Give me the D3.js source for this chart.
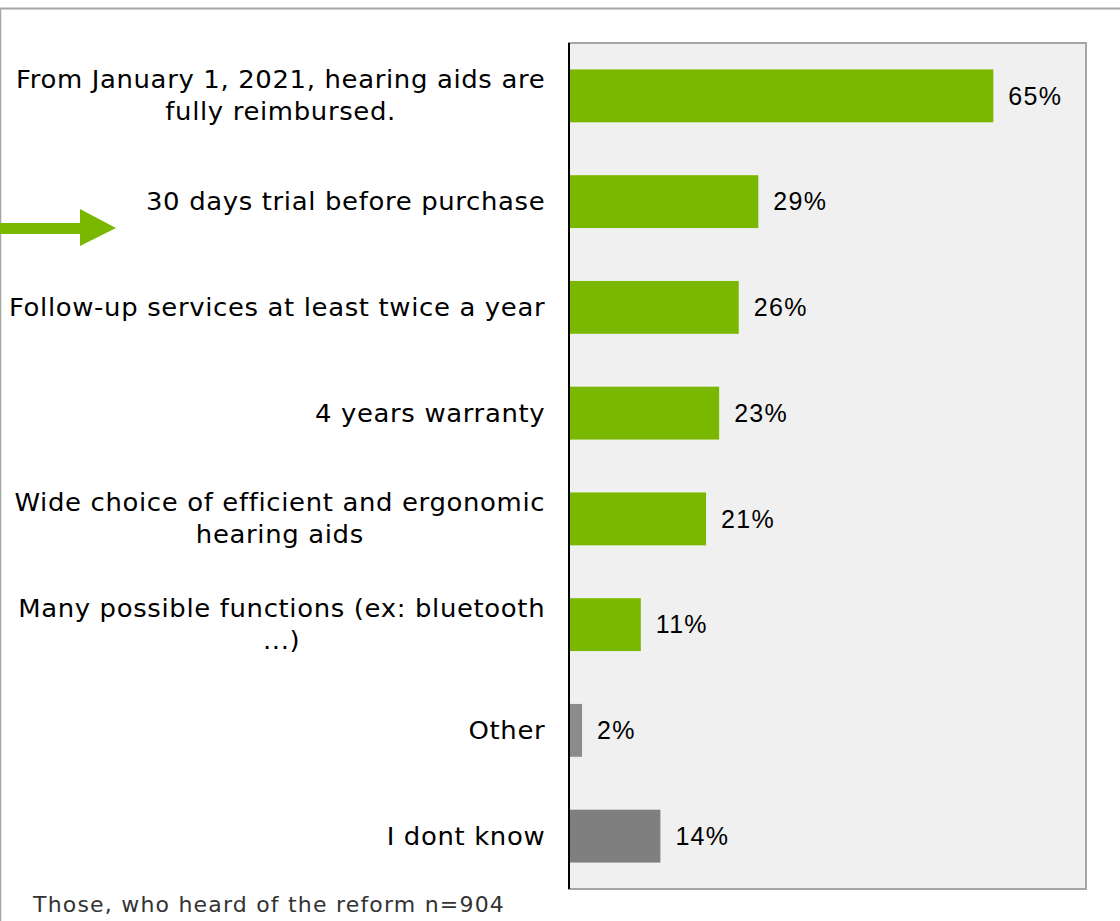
<!DOCTYPE html>
<html>
<head>
<meta charset="utf-8">
<script src="https://cdn.jsdelivr.net/npm/d3@7"></script>
<style>
  body { margin: 0; background: #fff; }
  svg { display: block; }
</style>
</head>
<body>
<script>
  var categories = [
    ["From January 1, 2021, hearing aids are", "fully reimbursed."],
    ["30 days trial before purchase"],
    ["Follow-up services at least twice a year"],
    ["4 years warranty"],
    ["Wide choice of efficient and ergonomic", "hearing aids"],
    ["Many possible functions (ex: bluetooth", "...)"],
    ["Other"],
    ["I dont know"]
  ];
  var values = [65, 29, 26, 23, 21, 11, 2, 14];
  var barColors = ["#7ab800", "#7ab800", "#7ab800", "#7ab800", "#7ab800", "#7ab800", "#8c8c8c", "#7f7f7f"];
  var footnote = "Those, who heard of the reform n=904";

  var settings = { width: 1120, height: 921, left: 569, right: 1086, top: 43, bottom: 889, labelRight: 545, stretch: 1.08 };

  var svg = d3.select("body").append("svg")
      .attr("width", settings.width)
      .attr("height", settings.height);

  // outer frame (only top and left visible)
  svg.append("line").attr("x1", 0).attr("x2", settings.width).attr("y1", 8.5).attr("y2", 8.5)
      .style("stroke", "#a6a6a6").style("stroke-width", 2);
  svg.append("line").attr("x1", 0.5).attr("x2", 0.5).attr("y1", 8).attr("y2", settings.height)
      .style("stroke", "#a6a6a6").style("stroke-width", 1.5);

  var x = d3.scaleLinear().domain([0, 79.2]).range([settings.left, settings.right]);
  var y = d3.scaleBand().domain(d3.range(values.length))
      .range([settings.top, settings.bottom]).paddingInner(0.5).paddingOuter(0.25);

  // plot background
  svg.append("rect")
      .attr("x", settings.left).attr("y", settings.top)
      .attr("width", settings.right - settings.left).attr("height", settings.bottom - settings.top)
      .style("fill", "#f0f0f0").style("stroke", "#a6a6a6").style("stroke-width", 2);

  svg.selectAll("rect.bar").data(values).enter()
    .append("rect").attr("class", "bar")
      .attr("x", x(0))
      .attr("y", function(d, i) { return y(i); })
      .attr("width", function(d) { return x(d) - x(0); })
      .attr("height", y.bandwidth())
      .style("fill", function(d, i) { return barColors[i]; });

  // axis line
  svg.append("line").attr("x1", settings.left).attr("x2", settings.left)
      .attr("y1", settings.top).attr("y2", settings.bottom)
      .style("stroke", "#000").style("stroke-width", 2);

  svg.selectAll("text.val").data(values).enter()
    .append("text").attr("class", "val")
      .attr("x", function(d) { return x(d) + 15; })
      .attr("y", function(d, i) { return y(i) + y.bandwidth() / 2; })
      .attr("dy", "0.35em")
      .style("font-family", "'Liberation Sans', Arial, sans-serif")
      .style("font-size", "25px")
      .style("letter-spacing", "1.3px")
      .style("fill", "#000")
      .text(function(d) { return d + "%"; });

  // category labels: lines centred on each other, block right-aligned,
  // stretched a bit to get closer to the wide Verdana look
  var labels = svg.selectAll("text.cat").data(categories).enter()
    .append("text").attr("class", "cat")
      .attr("text-anchor", "middle")
      .style("font-family", "'DejaVu Sans', Verdana, sans-serif")
      .style("font-size", "24px")
      .style("letter-spacing", "0.6px")
      .style("fill", "#000");
  labels.selectAll("tspan").data(function(d) { return d; }).enter()
    .append("tspan")
      .attr("x", 0)
      .attr("y", function(d, i) { return i * 32; })
      .attr("dy", "0.35em")
      .text(function(d) { return d; });
  labels.attr("transform", function(d, i) {
    var w = (this.getBBox().width - 0.6) * settings.stretch;
    var cy = y(i) + y.bandwidth() / 2 - (d.length - 1) * 16;
    return "translate(" + (settings.labelRight - w / 2) + "," + cy + ") scale(" + settings.stretch + ",1)";
  });

  // highlight arrow
  svg.append("path")
      .attr("d", "M0,223 L80,223 L80,209 L116,228 L80,246 L80,234 L0,234 Z")
      .style("fill", "#7ab800");

  svg.append("text")
      .attr("x", 33).attr("y", 912)
      .style("font-family", "'DejaVu Sans', Verdana, sans-serif")
      .style("font-size", "22px")
      .style("letter-spacing", "1.2px")
      .style("fill", "#333")
      .text(footnote);
</script>
</body>
</html>
